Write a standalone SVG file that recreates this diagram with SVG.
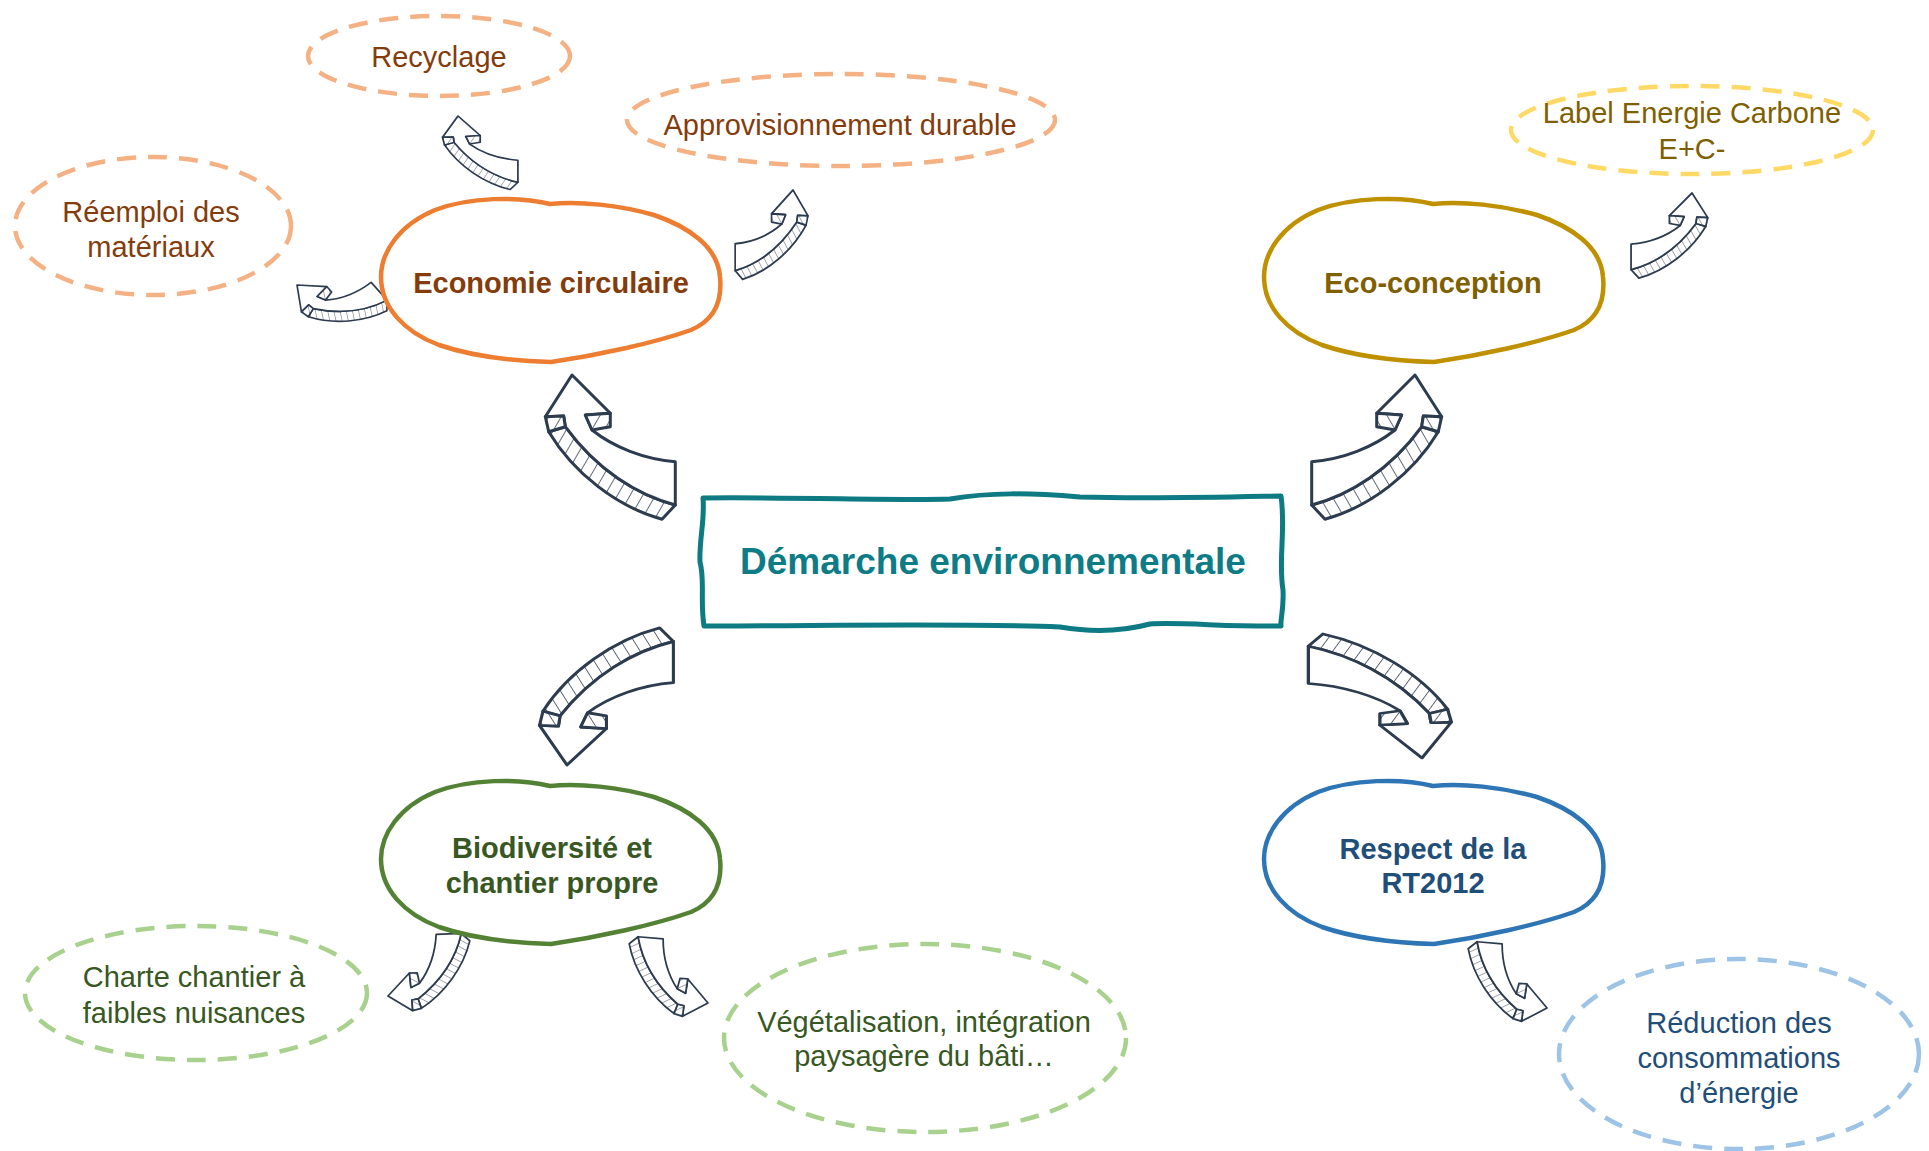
<svg xmlns="http://www.w3.org/2000/svg" width="1929" height="1151" viewBox="0 0 1929 1151">
<style>
  text { font-family: "Liberation Sans", Arial, sans-serif; text-anchor: middle; }
  .main { font-size: 29px; font-weight: bold; }
  .sub { font-size: 29px; }
  .center { font-size: 37px; font-weight: bold; fill: #0E7C86; }
  .blob { fill: none; stroke-width: 4.5; stroke-linejoin: round; }
  .dash { fill: none; stroke-width: 4.5; stroke-dasharray: 19 12; }
  .af { fill: #fff; stroke: #2D3B4F; stroke-width: 3; stroke-linejoin: round; }
  .ah { fill: url(#hatch); stroke: #2D3B4F; stroke-width: 3; stroke-linejoin: round; }
</style>
<defs>
  <pattern id="hatch" patternUnits="userSpaceOnUse" width="11" height="11" patternTransform="rotate(30)">
    <rect width="11" height="11" fill="#fff"/>
    <line x1="0" y1="0" x2="0" y2="11" stroke="#2D3B4F" stroke-width="1.5"/>
  </pattern>
  <path id="blob" d="M 171,7 C 140,-1 90,0 56,13 C 20,28 2,55 2,80 C 2,110 25,135 60,148 C 95,160 135,164 172,165 C 220,158 275,146 312,133 C 338,122 343,100 341,80 C 339,50 310,30 275,18 C 240,8 200,4 171,7 Z"/>
  <g id="arr">
    <path class="ah" d="M -6.7,51.7 C 25,95 65,120 103.3,130 L 90,144.3 C 45,131.7 1.7,98.3 -23.3,56.7 Z"/>
    <path class="af" d="M 0,0 L 38.3,38.3 L 13.3,40 L 20,55 C 41.7,72.3 71.7,84 103.3,86.7 L 103.3,130 C 65,120 25,95 -6.7,51.7 L -8.3,41 L -26.7,41.7 Z"/>
    <path class="ah" d="M 13.3,40 L 38.3,38.3 L 38.3,51.7 L 20,55 Z"/>
    <path class="ah" d="M -26.7,41.7 L -8.3,41 L -6.7,51.7 L -23.3,56.7 Z"/>
  </g>
</defs>
<rect width="1929" height="1151" fill="#fff"/>

<g id="connectors">
  <use href="#arr" transform="translate(572,375)"/>
  <use href="#arr" transform="translate(1415,375) scale(-1,1)"/>
  <use href="#arr" transform="translate(567,765) scale(1.03,-0.95)"/>
  <use href="#arr" transform="translate(1422,758) scale(-1.1,-0.86)"/>
  <use href="#arr" transform="translate(458,116) scale(0.58,0.51)"/>
  <use href="#arr" transform="translate(297,285) rotate(-42) scale(0.55)"/>
  <use href="#arr" transform="translate(793,190) scale(-0.56,0.62)"/>
  <use href="#arr" transform="translate(1692,193) scale(-0.59,0.59)"/>
  <use href="#arr" transform="translate(388,996) rotate(-92) scale(0.58)"/>
  <use href="#arr" transform="translate(708,1003) rotate(95) scale(-0.58,0.58)"/>
  <use href="#arr" transform="translate(1547,1008) rotate(95) scale(-0.58,0.58)"/>
</g>

<g id="node-center">
  <path d="M 703,498 C 800,497 900,501 950,499 C 990,492 1030,493 1080,497 C 1150,499 1230,497 1281,496 C 1286,530 1278,560 1283,590 C 1284,610 1280,620 1281,626 C 1230,627 1180,622 1150,624 C 1120,632 1090,632 1060,627 C 960,623 820,626 704,626 C 700,600 705,580 700,562 C 699,540 705,520 703,498 Z" fill="none" stroke="#0E7A84" stroke-width="5" stroke-linejoin="round"/>
  <text class="center" x="993" y="574">Démarche environnementale</text>
</g>

<g id="node-economie">
  <use href="#blob" class="blob" stroke="#ED7D31" transform="translate(379,197)"/>
  <text class="main" x="551" y="293" fill="#843C0C">Economie circulaire</text>
</g>
<g id="node-eco-conception">
  <use href="#blob" class="blob" stroke="#BF9000" transform="translate(1262,197)"/>
  <text class="main" x="1433" y="293" fill="#7F6000">Eco-conception</text>
</g>
<g id="node-biodiversite">
  <use href="#blob" class="blob" stroke="#548235" transform="translate(379,779)"/>
  <text class="main" x="552" y="858" fill="#385723">Biodiversité et</text>
  <text class="main" x="552" y="893" fill="#385723">chantier propre</text>
</g>
<g id="node-respect">
  <use href="#blob" class="blob" stroke="#2E75B6" transform="translate(1262,779)"/>
  <text class="main" x="1433" y="859" fill="#1F4E79">Respect de la</text>
  <text class="main" x="1433" y="893" fill="#1F4E79">RT2012</text>
</g>

<g id="node-recyclage">
  <ellipse class="dash" stroke="#F4B183" cx="439" cy="56" rx="131" ry="40"/>
  <text class="sub" x="439" y="67" fill="#843C0C">Recyclage</text>
</g>
<g id="node-approvisionnement">
  <ellipse class="dash" stroke="#F4B183" cx="841" cy="120" rx="214" ry="46"/>
  <text class="sub" x="840" y="135" fill="#843C0C">Approvisionnement durable</text>
</g>
<g id="node-reemploi">
  <ellipse class="dash" stroke="#F4B183" cx="153" cy="226" rx="138" ry="69"/>
  <text class="sub" x="151" y="222" fill="#843C0C">Réemploi des</text>
  <text class="sub" x="151" y="257" fill="#843C0C">matériaux</text>
</g>
<g id="node-label">
  <ellipse class="dash" stroke="#FFD966" cx="1692" cy="130" rx="181" ry="44"/>
  <text class="sub" x="1692" y="123" fill="#7F6000">Label Energie Carbone</text>
  <text class="sub" x="1692" y="159" fill="#7F6000">E+C-</text>
</g>
<g id="node-charte">
  <ellipse class="dash" stroke="#A9D18E" cx="196" cy="993" rx="171" ry="67"/>
  <text class="sub" x="194" y="987" fill="#385723">Charte chantier à</text>
  <text class="sub" x="194" y="1023" fill="#385723">faibles nuisances</text>
</g>
<g id="node-vegetalisation">
  <ellipse class="dash" stroke="#A9D18E" cx="925" cy="1038" rx="201" ry="94"/>
  <text class="sub" x="924" y="1032" fill="#385723">Végétalisation, intégration</text>
  <text class="sub" x="924" y="1066" fill="#385723">paysagère du bâti…</text>
</g>
<g id="node-reduction">
  <ellipse class="dash" stroke="#9DC3E6" cx="1739" cy="1054" rx="180" ry="95"/>
  <text class="sub" x="1739" y="1033" fill="#1F4E79">Réduction des</text>
  <text class="sub" x="1739" y="1068" fill="#1F4E79">consommations</text>
  <text class="sub" x="1739" y="1103" fill="#1F4E79">d’énergie</text>
</g>
</svg>
